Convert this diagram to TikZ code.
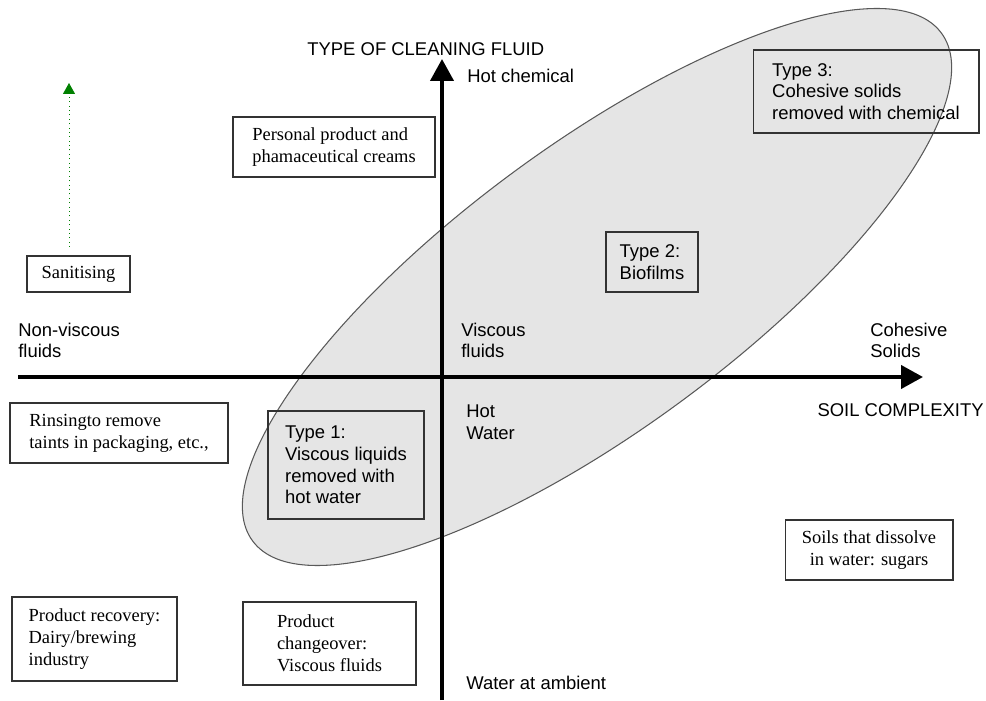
\documentclass[tikz,border=0pt]{standalone}
\usepackage{fontspec}
\setmainfont{Liberation Serif}
\setsansfont{Liberation Sans}
\usetikzlibrary{arrows.meta}

\begin{document}
\begin{tikzpicture}[x=0.02cm, y=0.02cm,
    every node/.style={font=\fontsize{10.5}{12.4}\selectfont},
    bx/.style={draw=black!80, line width=0.6pt, align=left, inner sep=0pt},
    sbx/.style={bx, font=\sffamily\fontsize{10.5}{12.4}\selectfont},
    lbl/.style={font=\sffamily\fontsize{10.5}{12.4}\selectfont, align=left, inner sep=0pt},
    ax/.style={line width=2.3pt, -{Triangle[length=0.44cm, width=0.46cm]}},
  ]
  \useasboundingbox (0,0) rectangle (986,700);
  % cleaning zone
  \filldraw[fill=black!10, draw=black!65, line width=0.6pt, rotate around={36.4:(597,413)}]
    (597,413) ellipse [x radius=8.56cm, y radius=2.84cm];
  % axes
  \coordinate (ylo) at (442,0);
  \coordinate (yhi) at (442,641);
  \coordinate (xlo) at (18,323);
  \coordinate (xhi) at (923,323);
  \draw[ax] (ylo) -- (yhi);
  \draw[ax] (xlo) -- (xhi);
  \node[lbl, anchor=base west] (ylab) at (307,644) {TYPE OF CLEANING FLUID};
  \node[lbl, anchor=base west] (hotchem) at (467,617) {Hot chemical};
  \node[lbl, anchor=base west] (nonvisc) at (18,342) {Non-viscous\\fluids};
  \node[lbl, anchor=base west] (visc) at (461,342) {Viscous\\fluids};
  \node[lbl, anchor=base west] (cohes) at (870,342) {Cohesive\\Solids};
  \node[lbl, anchor=base west] (hotw) at (466,261) {Hot\\Water};
  \node[lbl, anchor=base east] (xlab) at (984,283) {SOIL COMPLEXITY};
  \node[lbl, anchor=base west] (ambient) at (466,11) {Water at ambient};
  % boxes
  \node[bx, minimum width=2.06cm, minimum height=0.72cm] (sanit) at (78.5,426) {Sanitising};
  \node[bx, minimum width=4.04cm, minimum height=1.2cm] (cream) at (334,553) {Personal product and\\phamaceutical creams};
  \node[sbx, minimum width=4.52cm, minimum height=1.66cm] (type3) at (866,608.5) {Type 3:\\Cohesive solids\\removed with chemical};
  \node[sbx, minimum width=1.84cm, minimum height=1.2cm] (type2) at (652,438) {Type 2:\\Biofilms};
  \node[bx, minimum width=4.36cm, minimum height=1.2cm] (rinse) at (119,267) {Rinsingto remove\\taints in packaging, etc.,};
  \node[sbx, minimum width=3.12cm, minimum height=2.16cm] (type1) at (346,235) {Type 1:\\Viscous liquids\\removed with\\hot water};
  \node[bx, minimum width=3.3cm, minimum height=1.68cm] (recov) at (94.5,61) {Product recovery:\\Dairy/brewing\\industry};
  \node[bx, minimum width=3.46cm, minimum height=1.66cm] (change) at (329.5,56.5) {Product\\changeover:\\Viscous fluids};
  \node[bx, align=center, minimum width=3.36cm, minimum height=1.2cm] (sugar) at (869,150) {Soils that dissolve\\in water: sugars};
  % sanitising arrow
  \coordinate (sfrom) at (69,453);
  \coordinate (sto) at (69,617);
  \draw[green!50!black, dotted, line width=0.5pt, -{Triangle[length=0.22cm, width=0.24cm]}] (sfrom) -- (sto);
\end{tikzpicture}
\end{document}
